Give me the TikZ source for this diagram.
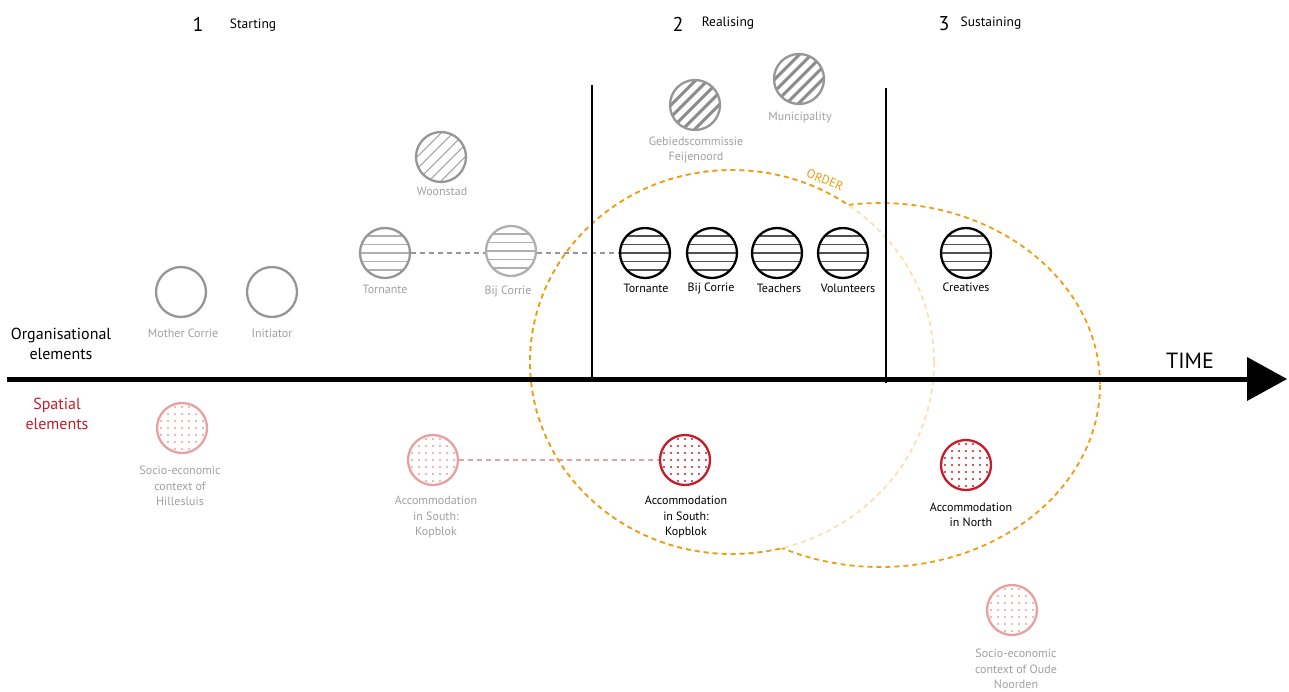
\documentclass[tikz,border=0pt]{standalone}
\usepackage{fontspec}
\setmainfont{PT Sans}
\usetikzlibrary{backgrounds}
\definecolor{orgG}{RGB}{150,150,150}
\definecolor{orgL}{RGB}{175,175,175}
\definecolor{lblG}{RGB}{160,160,160}
\definecolor{pinkC}{RGB}{232,160,160}
\definecolor{redC}{RGB}{196,28,42}
\definecolor{ordC}{RGB}{236,158,16}
\definecolor{ordF}{RGB}{250,224,178}
\definecolor{hatchG}{RGB}{140,140,140}
\definecolor{hatchK}{RGB}{80,80,80}
\tikzset{
  circ/.style={circle, minimum size=50pt, inner sep=0pt, line width=2.3pt, draw, fill=white},
  hlines/.style={path picture={\foreach \d in {-17,-8.5,0,8.5,17}{\draw[line width=1.1pt,#1] ([shift={(-30pt,\d pt)}]path picture bounding box.center) -- ++(60pt,0pt);}}},
  dlines/.style={path picture={\foreach \d in {-78,-66,...,18}{\draw[#1] ([shift={(\d pt,-30pt)}]path picture bounding box.center) -- ++(60pt,60pt);}}},
  dots/.style={path picture={\foreach \i in {-3,...,3}{\foreach \j in {-3,...,3}{\fill[#1] ([shift={({\i*7pt},{\j*7pt})}]path picture bounding box.center) circle (1.1pt);}}}},
  lbl/.style={font=\fontsize{12}{15.5}\selectfont, align=center, inner sep=0pt, text=lblG},
  lblk/.style={lbl, text=black},
  head/.style={font=\fontsize{13.5}{15}\selectfont, inner sep=0pt},
  num/.style={font=\fontsize{20}{22}\selectfont, inner sep=0pt},
  side/.style={font=\fontsize{16}{20}\selectfont, align=center, inner sep=0pt},
  ordline/.style={dash pattern=on 5pt off 4pt, line width=1.8pt},
  link/.style={dash pattern=on 5pt off 4pt, line width=1.6pt}
}
\begin{document}
\begin{tikzpicture}[x=1pt,y=-1pt]
\useasboundingbox (0,0) rectangle (1289,691);
% ORDER ellipses
\draw[ordline, ordF] (732,362) ellipse[x radius=202, y radius=192];
\begin{scope}[even odd rule]
  \clip (-10,-10) rectangle (1300,700) (880,385) ellipse[x radius=220, y radius=182];
  \draw[ordline, ordC] (732,362) ellipse[x radius=202, y radius=192];
\end{scope}
\begin{scope}[even odd rule]
  \clip (-10,-10) rectangle (1300,700) (732,362) ellipse[x radius=202, y radius=192];
  \draw[ordline, ordC] (880,385) ellipse[x radius=220, y radius=182];
\end{scope}
\node[font=\fontsize{12.5}{13}\selectfont, text=ordC, rotate=-22, inner sep=0pt] (order) at (825,180) {ORDER};
% phase lines
\coordinate (v1t) at (592,85); \coordinate (v1b) at (592,380);
\coordinate (v2t) at (886,88); \coordinate (v2b) at (886,383);
\draw[line width=2pt] (v1t) -- (v1b);
\draw[line width=2pt] (v2t) -- (v2b);
% time axis
\coordinate (axL) at (7,379); \coordinate (axR) at (1250,379);
\draw[line width=5pt] (axL) -- (axR);
\fill (1247,357) -- (1287,379) -- (1247,401) -- cycle;
\node[font=\fontsize{22}{24}\selectfont, inner sep=0pt] (time) at (1190,361) {TIME};
% headings
\node[num] (n1) at (198,24) {1};
\node[head] (h1) at (253,25) {Starting};
\node[num] (n2) at (678,24) {2};
\node[head] (h2) at (728,23) {Realising};
\node[num] (n3) at (944,24) {3};
\node[head] (h3) at (991,23) {Sustaining};
% side labels
\node[side] (orgEl) at (61,344) {Organisational\\elements};
\node[side, text=redC] (spEl) at (57,414) {Spatial\\elements};
% organisational nodes - starting
\node[circ, draw=orgG] (mother) at (181,292) {};
\node[lbl] (motherL) at (183,333) {Mother Corrie};
\node[circ, draw=orgG] (init) at (272,292) {};
\node[lbl] (initL) at (272,333) {Initiator};
\node[circ, draw=orgG, dlines={orgG, line width=0.8pt}] (woon) at (441,157) {};
\node[lbl] (woonL) at (442,191) {Woonstad};
\node[circ, draw=orgG, hlines={orgL}] (tornG) at (385,253) {};
\node[lbl] (tornGL) at (385,289) {Tornante};
\node[circ, draw=orgL, hlines={orgL}] (bijG) at (511,251) {};
\node[lbl] (bijGL) at (508,291) {Bij Corrie};
% realising
\node[circ, draw=orgG, dlines={hatchG, line width=3pt}] (gebied) at (695,105) {};
\node[lbl] (gebiedL) at (696,150) {Gebiedscommissie\\Feijenoord};
\node[circ, draw=orgG, dlines={hatchG, line width=3pt}] (muni) at (799,79) {};
\node[lbl] (muniL) at (800,117) {Municipality};
\node[circ, draw=black, hlines={hatchK}] (tornB) at (645,253) {};
\node[lblk] (tornBL) at (646,288) {Tornante};
\node[circ, draw=black, hlines={hatchK}] (bijB) at (712,253) {};
\node[lblk] (bijBL) at (711,288) {Bij Corrie};
\node[circ, draw=black, hlines={hatchK}] (teach) at (777,253) {};
\node[lblk] (teachL) at (779,288) {Teachers};
\node[circ, draw=black, hlines={hatchK}] (volun) at (843,253) {};
\node[lblk] (volunL) at (848,288) {Volunteers};
% sustaining
\node[circ, draw=black, hlines={hatchK}] (creat) at (966,253) {};
\node[lblk] (creatL) at (966,287) {Creatives};
% spatial nodes
\node[circ, draw=pinkC, dots=pinkC] (hille) at (182,428) {};
\node[lbl] (hilleL) at (180,486) {Socio-economic\\context of\\Hillesluis};
\node[circ, draw=pinkC, dots=pinkC] (accSG) at (433,460) {};
\node[lbl] (accSGL) at (436,517) {Accommodation\\in South:\\Kopblok};
\node[circ, draw=redC, dots=redC] (accSR) at (685,460) {};
\node[lblk] (accSRL) at (686,517) {Accommodation\\in South:\\Kopblok};
\node[circ, draw=redC, dots=redC] (accN) at (966,465) {};
\node[lblk] (accNL) at (971,515) {Accommodation\\in North};
\node[circ, draw=pinkC, dots=pinkC] (oude) at (1012,610) {};
\node[lbl] (oudeL) at (1016,669) {Socio-economic\\context of Oude\\Noorden};
% links
\begin{scope}[on background layer]
\draw[link, orgG] (tornG) -- (tornB);
\draw[link, pinkC] (accSG) -- (accSR);
\end{scope}
\end{tikzpicture}
\end{document}
